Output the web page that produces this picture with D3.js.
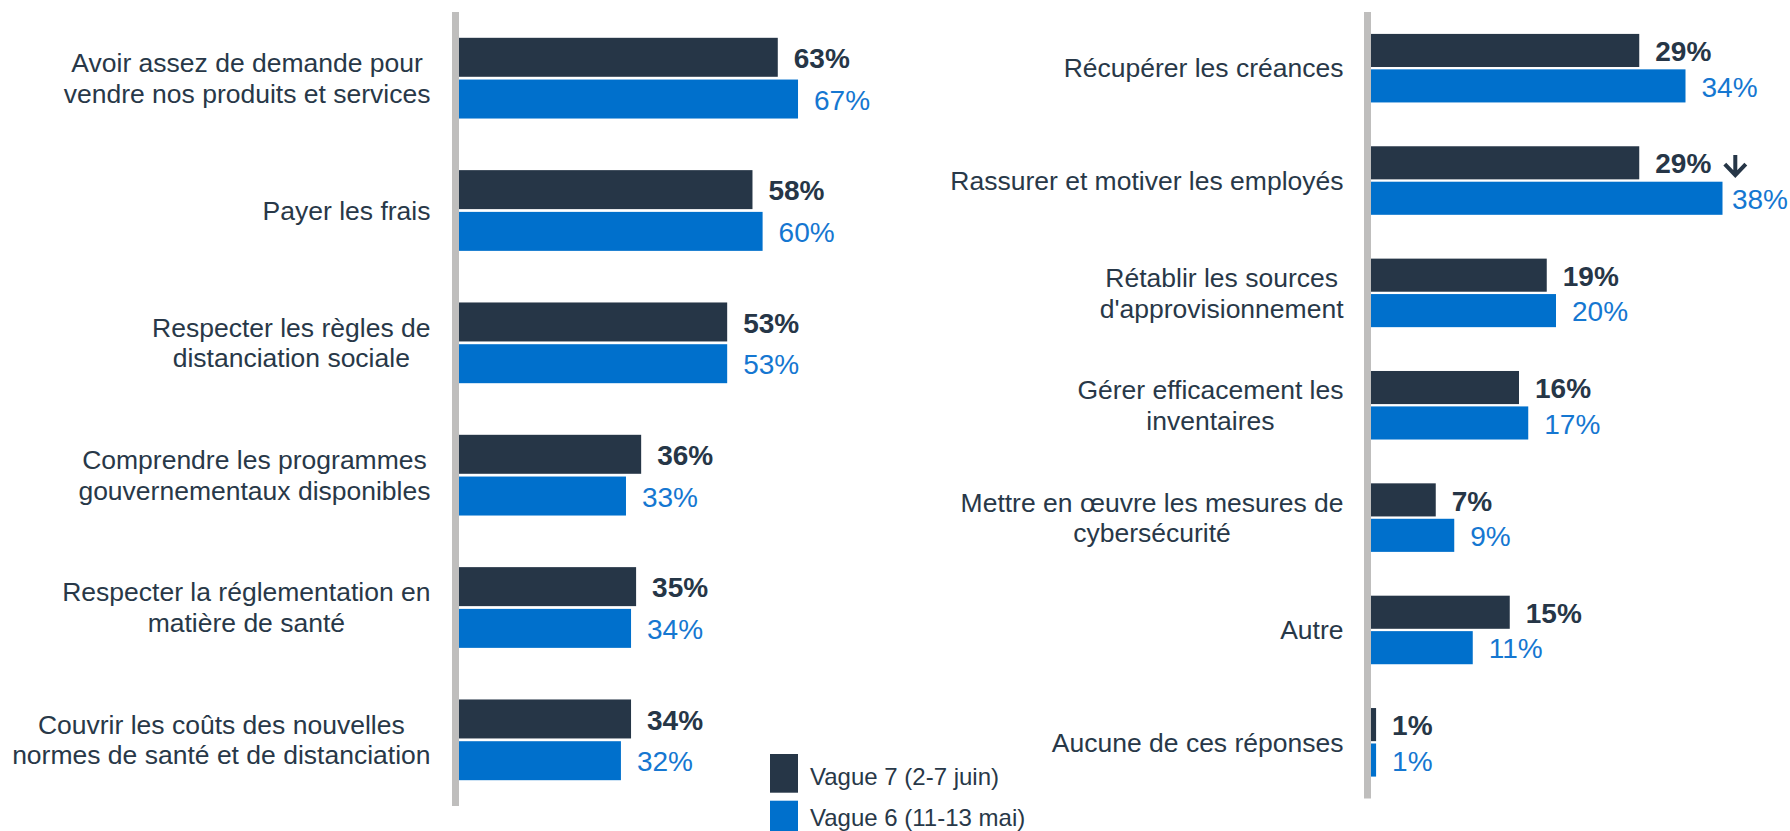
<!DOCTYPE html>
<html>
<head>
<meta charset="utf-8">
<script src="https://cdn.jsdelivr.net/npm/d3@7"></script>
<style>
    body { margin: 0; background: #fff; }
    svg { display: block; font-family: "Liberation Sans", Arial, sans-serif; }
</style>
</head>
<body>
<div id="chart"></div>
<script>
// Données
const series = ["Vague 7 (2-7 juin)", "Vague 6 (11-13 mai)"];

const leftCategories = [
    ["Avoir assez de demande pour", "vendre nos produits et services"],
    ["Payer les frais"],
    ["Respecter les règles de", "distanciation sociale"],
    ["Comprendre les programmes", "gouvernementaux disponibles"],
    ["Respecter la réglementation en", "matière de santé"],
    ["Couvrir les coûts des nouvelles", "normes de santé et de distanciation"]
];
const leftWave7 = [63, 58, 53, 36, 35, 34];
const leftWave6 = [67, 60, 53, 33, 34, 32];

const rightCategories = [
    ["Récupérer les créances"],
    ["Rassurer et motiver les employés"],
    ["Rétablir les sources", "d'approvisionnement"],
    ["Gérer efficacement les", "inventaires"],
    ["Mettre en œuvre les mesures de", "cybersécurité"],
    ["Autre"],
    ["Aucune de ces réponses"]
];
const rightWave7 = [29, 29, 19, 16, 7, 15, 0.55];
const rightWave6 = [34, 38, 20, 17, 9, 11, 0.55];
// baisse significative vs vague précédente
const rightDown = [false, true, false, false, false, false, false];

const W = 1790, H = 831;
const DARK = "#263647", BLUE = "#0070cc", BLUE_TXT = "#1577d1", LABEL = "#283848", AXIS = "#bfbebd";

const svg = d3.select("#chart").append("svg").attr("width", W).attr("height", H);

/**
 * PANNEAU DE BARRES
 */
function draw_panel(opts) {
    const { categories, v7, v6, down, x0, x100, yTop, yBottom, labelRight } = opts;
    const g = svg.append("g");
    const idx = d3.range(categories.length);

    const y = d3.scaleBand().domain(idx).range([yTop, yBottom]).paddingInner(0.39).paddingOuter(0.195);
    const sub = d3.scaleBand().domain([0, 1]).range([0, y.bandwidth()]).paddingInner(0.066);
    const x = d3.scaleLinear().domain([0, 100]).range([x0, x100]);

    // axe vertical
    g.append("rect")
        .attr("x", x0 - 7).attr("y", yTop)
        .attr("width", 7).attr("height", yBottom - yTop)
        .attr("fill", AXIS);

    const rows = idx.map(i => [
        { i, s: 0, v: v7[i] },
        { i, s: 1, v: v6[i] }
    ]).flat();

    g.selectAll("rect.bar").data(rows).enter().append("rect")
        .attr("class", "bar")
        .attr("x", x(0))
        .attr("y", d => y(d.i) + sub(d.s))
        .attr("width", d => x(d.v) - x(0))
        .attr("height", sub.bandwidth())
        .attr("fill", d => d.s === 0 ? DARK : BLUE);

    // étiquettes de valeur
    rows.forEach(d => {
        const t = g.append("text")
            .attr("y", y(d.i) + sub(d.s) + sub.bandwidth() / 2)
            .attr("dy", "0.38em")
            .attr("font-size", "28px")
            .attr("font-weight", d.s === 0 ? "bold" : "normal")
            .attr("fill", d.s === 0 ? DARK : BLUE_TXT)
            .text(Math.round(d.v) + "%");
        const tw = t.node().getComputedTextLength();
        const tx = Math.min(x(d.v) + 16, W - 2 - tw);
        t.attr("x", tx);

        if (d.s === 0 && down && down[d.i]) {
            const ax = tx + tw + 24;
            const cy = y(d.i) + sub(d.s) + sub.bandwidth() / 2 + 3.3;
            g.append("path")
                .attr("d", `M${ax},${cy - 11}V${cy + 9}M${ax - 10.5},${cy - 2}L${ax},${cy + 9}L${ax + 10.5},${cy - 2}`)
                .attr("fill", "none").attr("stroke", DARK)
                .attr("stroke-width", 4).attr("stroke-linejoin", "miter");
        }
    });

    // libellés des catégories (blocs centrés, alignés à droite)
    const fs = 26.5, lh = 30.7;
    idx.forEach(i => {
        const lines = categories[i];
        const cy = y(i) + y.bandwidth() / 2;
        const t = g.append("text").attr("font-size", fs + "px").attr("fill", LABEL).attr("text-anchor", "middle");
        const spans = lines.map((l, k) => t.append("tspan")
            .attr("y", cy + 0.35 * fs + (k - (lines.length - 1) / 2) * lh)
            .text(l));
        const maxW = d3.max(spans, s => s.node().getComputedTextLength());
        spans.forEach(s => s.attr("x", labelRight - maxW / 2));
    });
}

draw_panel({
    categories: leftCategories, v7: leftWave7, v6: leftWave6,
    x0: 459, x100: 965, yTop: 12, yBottom: 806, labelRight: 430.5
});

draw_panel({
    categories: rightCategories, v7: rightWave7, v6: rightWave6, down: rightDown,
    x0: 1371, x100: 2296, yTop: 12, yBottom: 798.5, labelRight: 1343.5
});

/**
 * LÉGENDE
 */
const legendY = [754, 800.7];
const legend = svg.append("g");
series.forEach((s, i) => {
    legend.append("rect")
        .attr("x", 770).attr("y", legendY[i])
        .attr("width", 28).attr("height", 38.7)
        .attr("fill", i === 0 ? DARK : BLUE);
    legend.append("text")
        .attr("x", 810).attr("y", legendY[i] + 31 - i * 5.7)
        .attr("font-size", "24px").attr("fill", LABEL)
        .text(s);
});
</script>
</body>
</html>
